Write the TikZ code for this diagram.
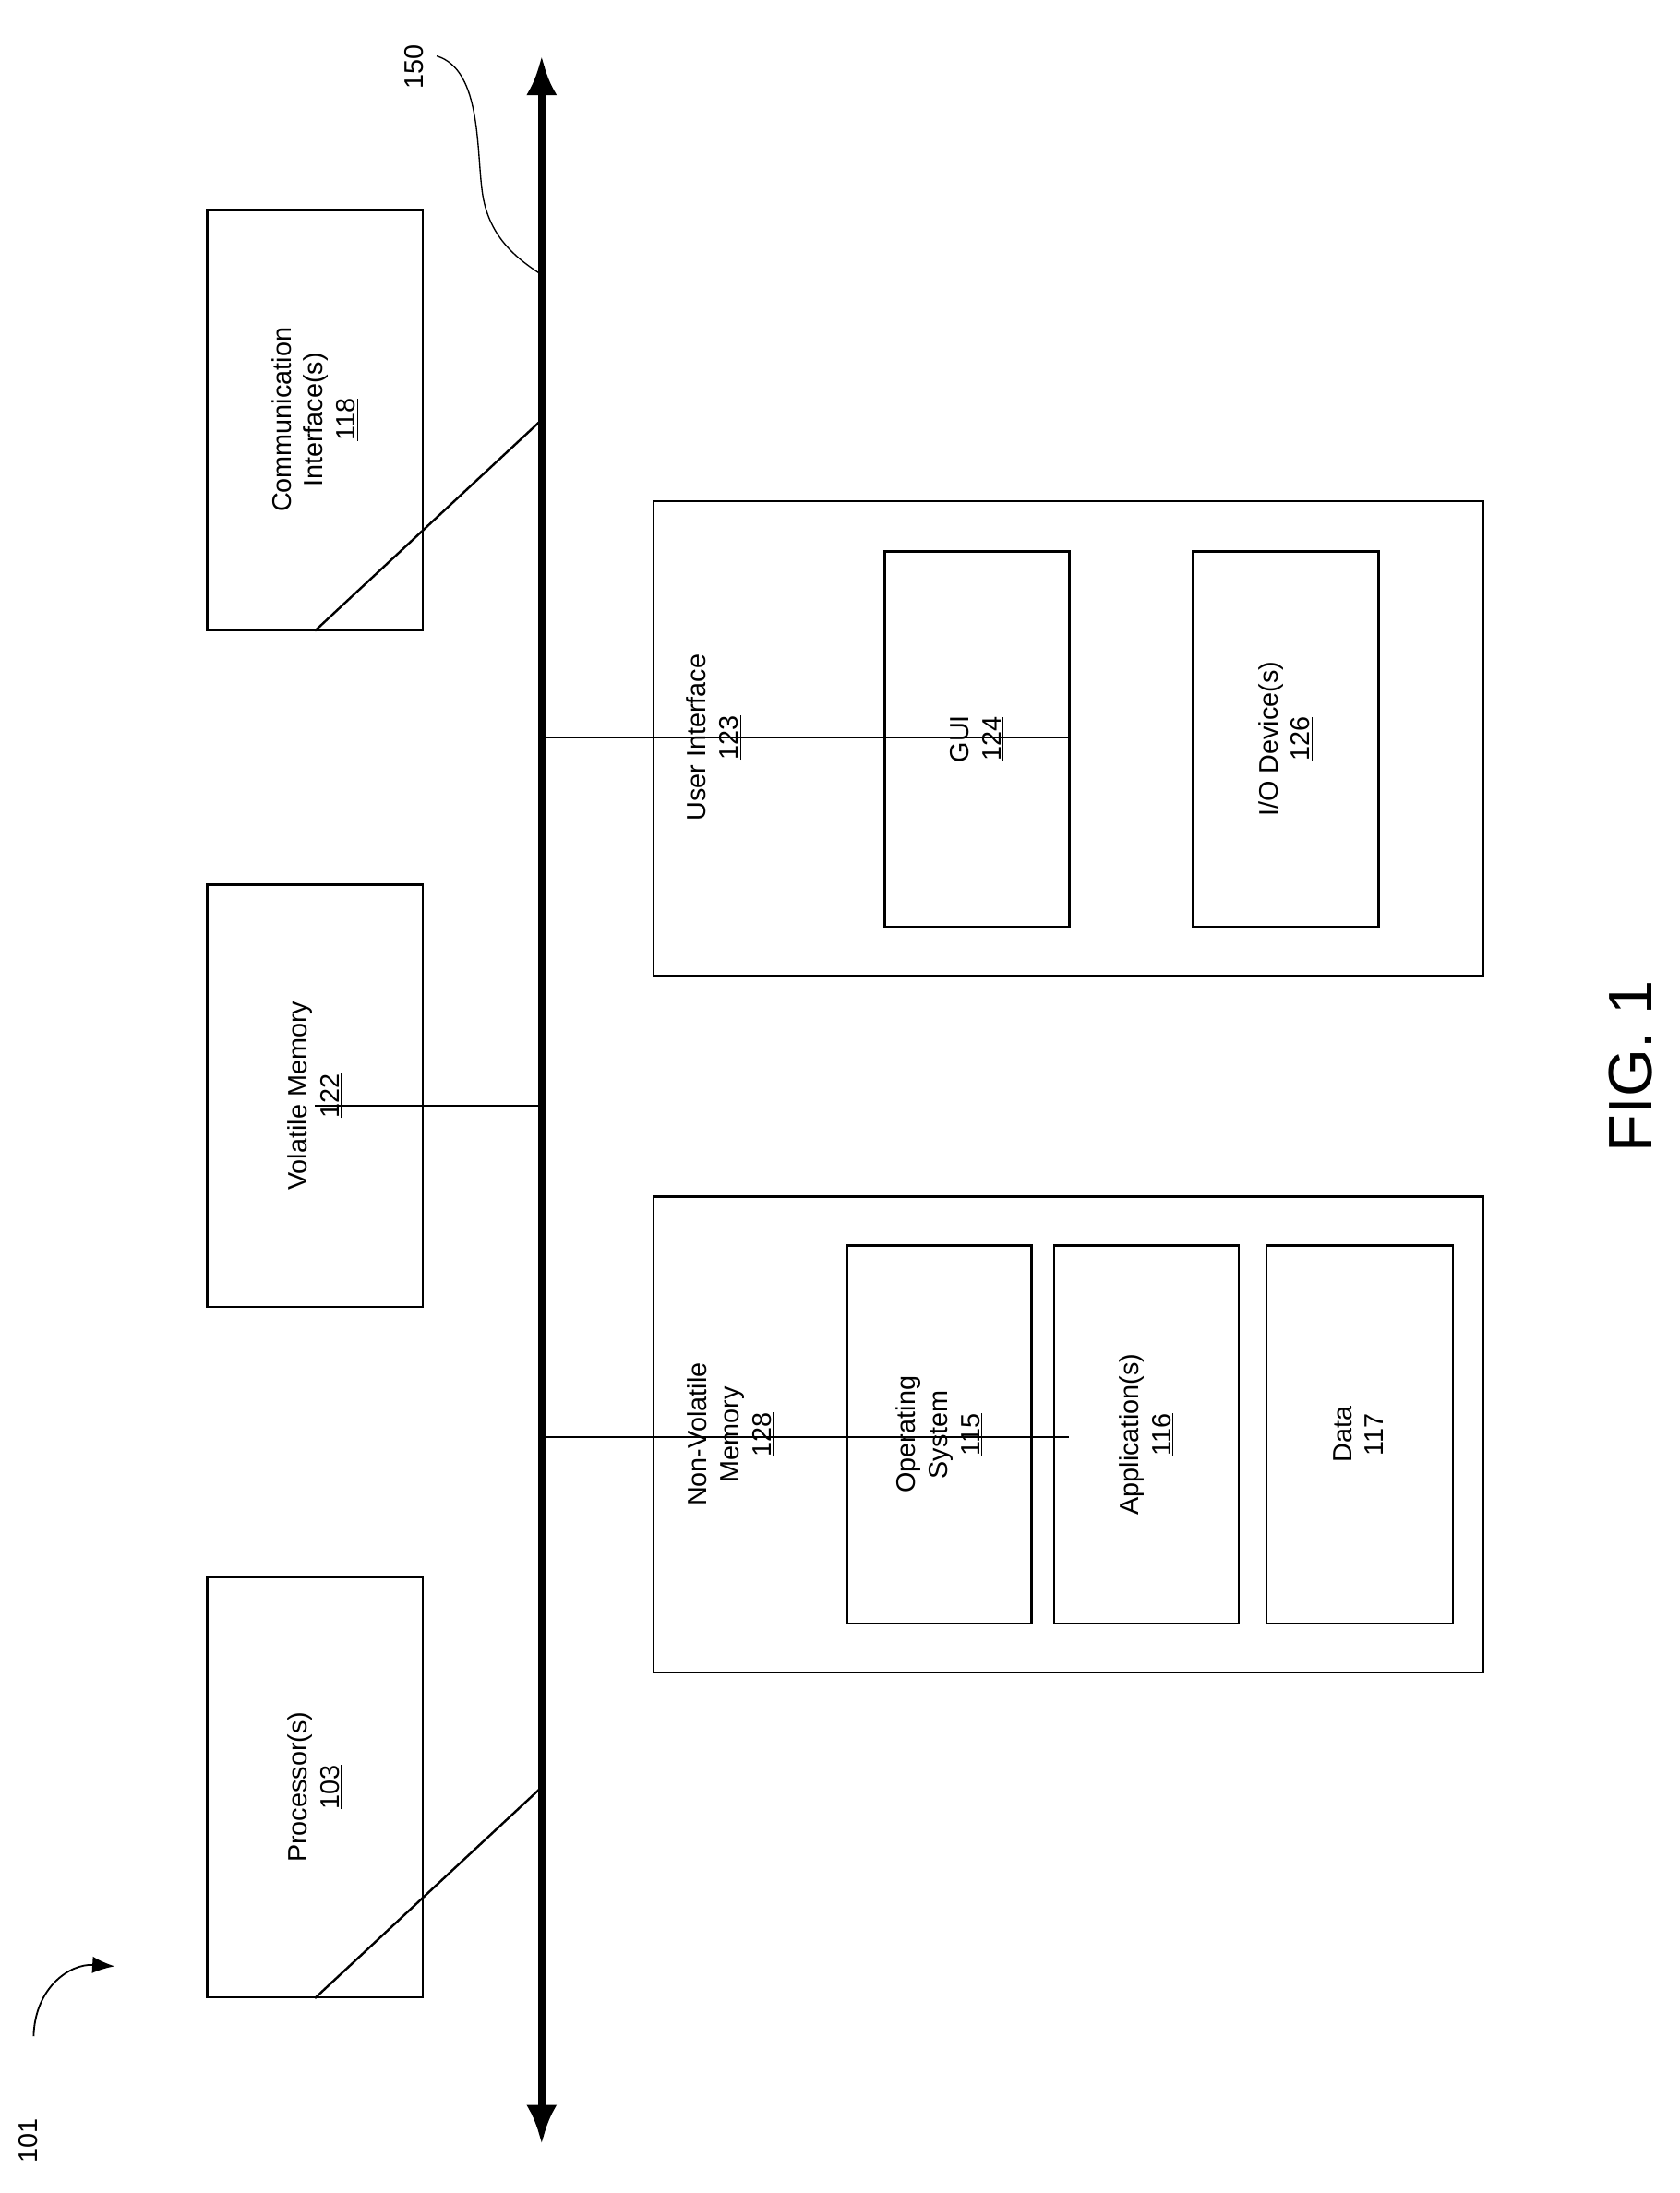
\documentclass[tikz,border=0pt]{standalone}
\usepackage{fontspec}
\setmainfont{Liberation Sans}
\usetikzlibrary{arrows.meta}
\begin{document}
\begin{tikzpicture}[x=1pt,y=-1pt,
  box/.style={draw,line width=1.6pt,inner sep=0pt},
  txt/.style={rotate=90,align=center,font=\fontsize{19}{23}\selectfont},
  ln/.style={line width=1.6pt}]
\useasboundingbox[fill=white] (0,0) rectangle (1200,1567);
% bus
\coordinate (bt) at (387,40);
\coordinate (bb) at (387,1532);
\draw[line width=5pt,{Latex[length=28pt,width=22pt]}-{Latex[length=28pt,width=22pt]}] (bt) -- (bb);
% left boxes
\node[box,minimum width=154pt,minimum height=300pt] (ci) at (225,300) {};
\node[txt] at (ci) {Communication\\Interface(s)\\\underline{118}};
\node[box,minimum width=154pt,minimum height=302pt] (vm) at (225,783) {};
\node[txt] at (vm) {Volatile Memory\\\underline{122}};
\node[box,minimum width=154pt,minimum height=300pt] (pr) at (225,1277) {};
\node[txt] at (pr) {Processor(s)\\\underline{103}};
\coordinate (j1) at (387,300);
\coordinate (j2) at (387,790);
\coordinate (j3) at (387,1277);
\draw[ln] (ci.south) -- (j1);
\draw[ln] (vm.south |- j2) -- (j2);
\draw[ln] (pr.south) -- (j3);
% user interface
\node[box,minimum width=593pt,minimum height=339pt] (ui) at (763.5,527.5) {};
\node[txt] at (510,527) {User Interface\\\underline{123}};
\node[box,minimum width=132pt,minimum height=268pt] (gui) at (698,528) {};
\node[txt] at (gui) {GUI\\\underline{124}};
\node[box,minimum width=133pt,minimum height=268pt] (io) at (918.5,528) {};
\node[txt] at (io) {I/O Device(s)\\\underline{126}};
\coordinate (j4) at (387,527);
\draw[ln] (j4) -- (ui.north |- j4);
% non-volatile
\node[box,minimum width=593pt,minimum height=340pt] (nv) at (763.5,1025) {};
\node[txt] at (522,1025) {Non-Volatile\\Memory\\\underline{128}};
\node[box,minimum width=132pt,minimum height=270pt] (os) at (671,1025) {};
\node[txt] at (os) {Operating\\System\\\underline{115}};
\node[box,minimum width=132pt,minimum height=270pt] (ap) at (819,1025) {};
\node[txt] at (ap) {Application(s)\\\underline{116}};
\node[box,minimum width=133pt,minimum height=270pt] (da) at (971.5,1025) {};
\node[txt] at (da) {Data\\\underline{117}};
\coordinate (j5) at (387,1027);
\draw[ln] (j5) -- (nv.north |- j5);
% labels
\node[txt] (l150) at (296,48) {150};
\coordinate (p150) at (385,195);
\draw[line width=0.9pt] (312,40) .. controls (345,50) and (340,110) .. (345,140) .. controls (350,170) and (370,185) .. (p150);
\node[rotate=90,font=\fontsize{44}{50}\selectfont] (fig) at (1165,762) {FIG. 1};
\node[txt] (l101) at (20,1530) {101};
\coordinate (a101) at (82,1405);
\draw[line width=1.2pt,-{Latex[length=16pt,width=12pt]}] (24,1455) .. controls (25,1420) and (50,1403) .. (a101);
\end{tikzpicture}
\end{document}
